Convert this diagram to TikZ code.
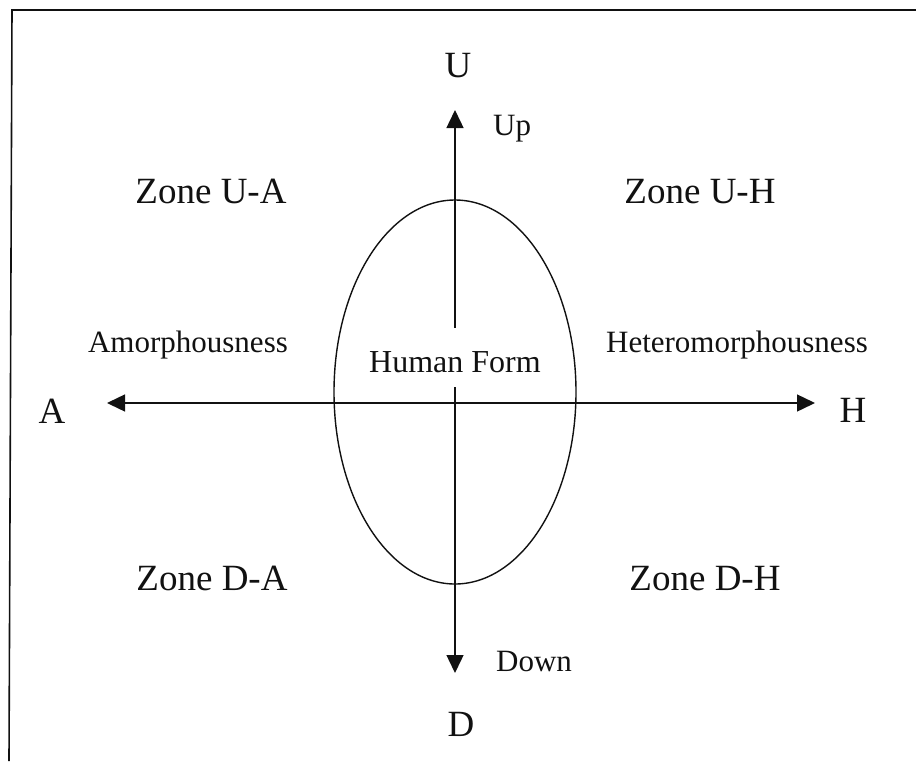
\documentclass[tikz,border=0pt]{standalone}
\usepackage{fontspec}
\setmainfont{Liberation Serif}
\usetikzlibrary{arrows.meta,positioning,shapes.geometric}
\definecolor{Ink}{HTML}{111111}
\tikzset{
 pole/.style={font=\fontsize{37}{40}\selectfont, anchor=base, inner sep=0pt, text=Ink},
 zone/.style={font=\fontsize{37}{40}\selectfont, anchor=base, inner sep=0pt, text=Ink},
 term/.style={font=\fontsize{31}{34}\selectfont, anchor=base, inner sep=0pt, text=Ink},
 axis/.style={-{Triangle[length=18pt,width=17pt]}, line width=1.4pt, draw=Ink},
 frame/.style={line width=1.6pt, draw=Ink}
}
\begin{document}
\begin{tikzpicture}[x=1pt,y=-1pt]
\useasboundingbox (0,0) rectangle (916,761);
% frame (top and left edge only)
\coordinate (tl) at (12,10);
\coordinate (tr) at (916,10);
\coordinate (bl) at (9,761);
\draw[frame] (tr) -- (tl) -- (bl);
% arrow tips
\coordinate (utip) at (455,110);
\coordinate (dtip) at (455,673);
\coordinate (atip) at (107,403);
\coordinate (htip) at (815,403);
% ellipse
\node[ellipse, draw=Ink, line width=1.4pt, minimum width=242pt, minimum height=384pt, inner sep=0pt] (form) at (455,392) {};
\node[term, fill=white, text height=29pt, text depth=0pt, inner xsep=2pt, inner ysep=15pt, font=\fontsize{32}{35}\selectfont] (hf) at (455,372) {Human Form};
% axes
\draw[axis] (hf.north) -- (utip);
\draw[axis] (hf.south) -- (dtip);
\draw[axis, {Triangle[length=18pt,width=17pt]}-{Triangle[length=18pt,width=17pt]}] (atip) -- (htip);
% poles
\node[pole] (u) at (458,77) {U};
\node[pole] (d) at (461,736) {D};
\node[pole] (a) at (52,423) {A};
\node[pole] (h) at (853,422) {H};
\node[term, anchor=base west] (up) at (493,135) {Up};
\node[term, anchor=base west] (down) at (496,671) {Down};
\node[term] (amor) at (188,352) {Amorphousness};
\node[term] (hetero) at (737,352) {Heteromorphousness};
% zones
\node[zone] (ua) at (211,203) {Zone U-A};
\node[zone] (uh) at (700,203) {Zone U-H};
\node[zone] (da) at (212,590) {Zone D-A};
\node[zone] (dh) at (705,590) {Zone D-H};
\end{tikzpicture}
\end{document}
